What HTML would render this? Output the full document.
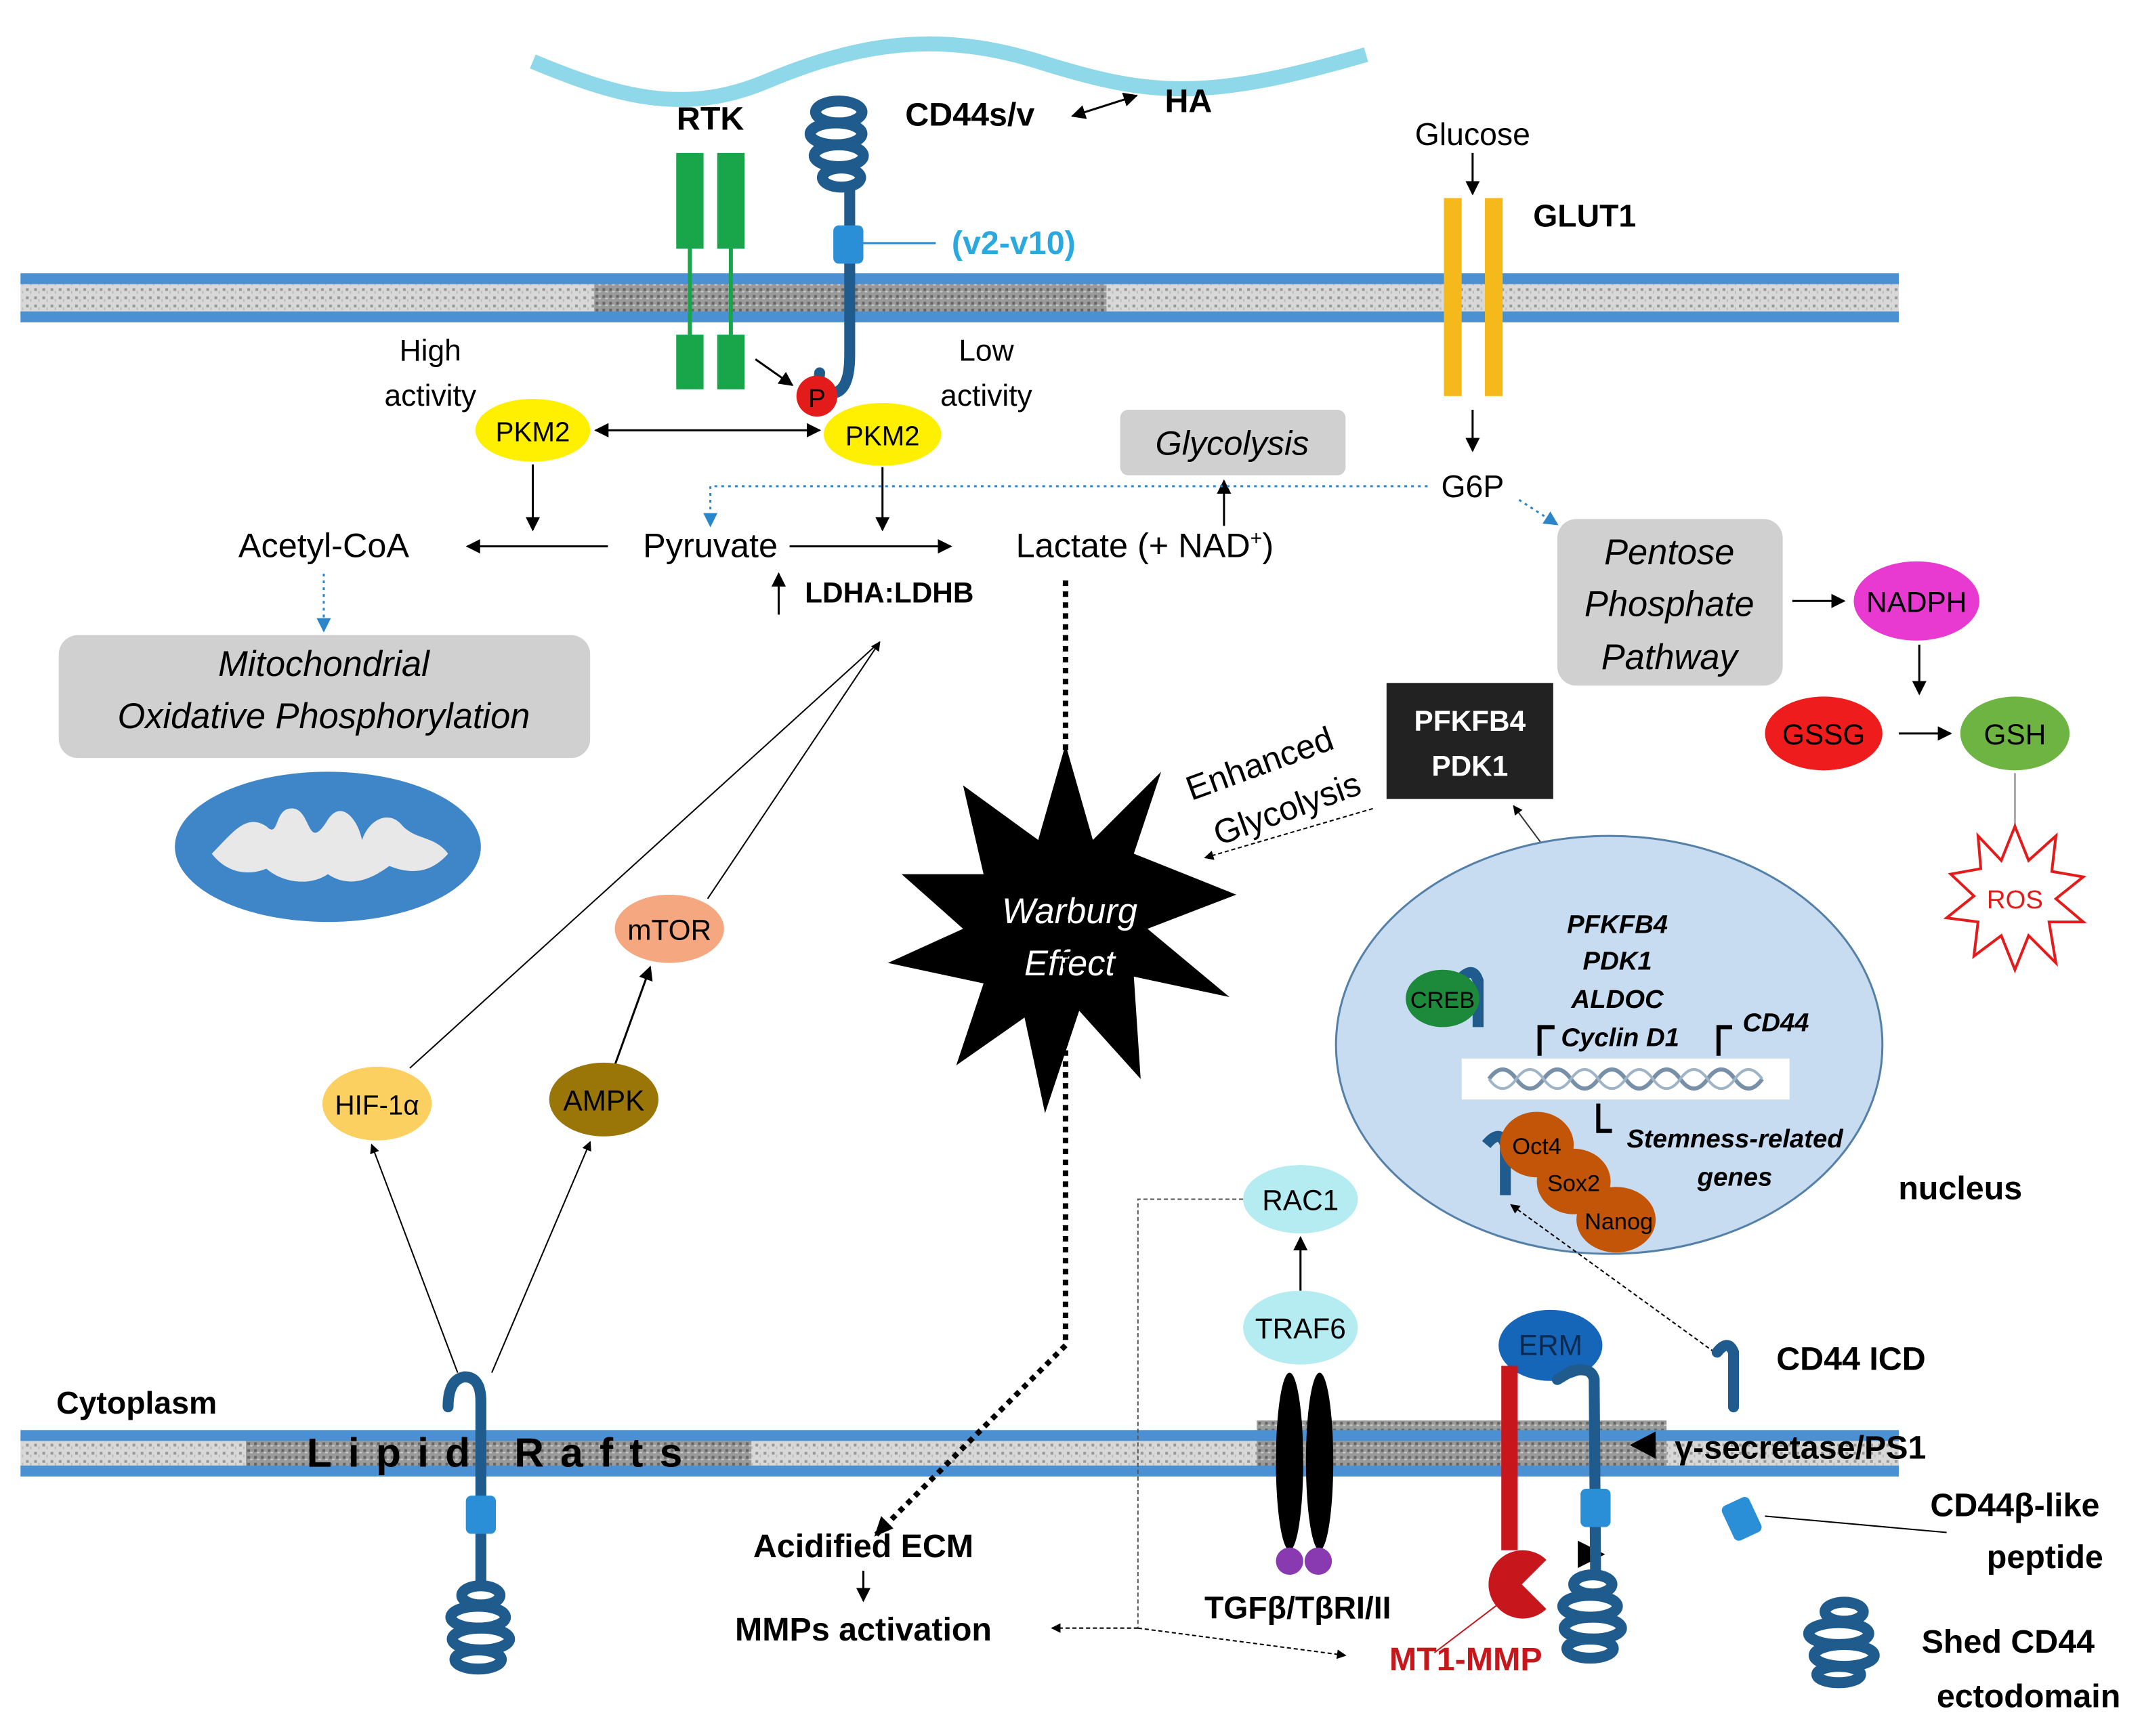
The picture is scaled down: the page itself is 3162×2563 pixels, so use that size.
<!DOCTYPE html>
<html><head><meta charset="utf-8"><style>html,body{margin:0;padding:0;background:#fff}svg{display:block}text{font-family:"Liberation Sans",sans-serif}</style></head><body>
<svg width="3162" height="2563" viewBox="0 0 1568 1271" xmlns="http://www.w3.org/2000/svg">
<defs>
<marker id="a" viewBox="0 0 10 10" refX="9" refY="5" markerWidth="7" markerHeight="7" orient="auto-start-reverse"><path d="M0,0L10,5L0,10z" fill="#000"/></marker>
<marker id="b" viewBox="0 0 10 10" refX="9" refY="5" markerWidth="7" markerHeight="7" orient="auto"><path d="M0,0L10,5L0,10z" fill="#2a86c8"/></marker>
<pattern id="g" width="6" height="6" patternUnits="userSpaceOnUse"><rect width="6" height="6" fill="#d8d8d8"/><rect x="1" y="1" width="2" height="2" fill="#999"/><rect x="4" y="3" width="1" height="2" fill="#bbb"/></pattern>
<pattern id="gd" width="5" height="5" patternUnits="userSpaceOnUse"><rect width="5" height="5" fill="#9a9a9a"/><rect x="1" y="1" width="2" height="2" fill="#666"/><rect x="3" y="3" width="2" height="1" fill="#ccc"/></pattern>
</defs>
<path d="M390,45 C450,70 500,85 560,60 S680,20 760,45 S880,75 1000,40" fill="none" stroke="#8fd8ea" stroke-width="11"/>
<rect x="15" y="205" width="1375" height="27" fill="url(#g)"/>
<rect x="435" y="202" width="375" height="33" fill="url(#gd)"/>
<rect x="15" y="200" width="1375" height="8" fill="#4a90d2"/>
<rect x="15" y="228" width="1375" height="8" fill="#4a90d2"/>
<rect x="15" y="1052" width="1375" height="24" fill="url(#g)"/>
<rect x="180" y="1048" width="370" height="32" fill="url(#gd)"/>
<rect x="920" y="1040" width="300" height="40" fill="url(#gd)"/>
<rect x="15" y="1047" width="1375" height="8" fill="#4a90d2"/>
<rect x="15" y="1073" width="1375" height="8" fill="#4a90d2"/>
<g fill="#19a64a"><rect x="495" y="112" width="20" height="70"/><rect x="525" y="112" width="20" height="70"/><rect x="495" y="245" width="20" height="40"/><rect x="525" y="245" width="20" height="40"/></g>
<line x1="505" y1="182" x2="505" y2="245" stroke="#19a64a" stroke-width="3"/><line x1="535" y1="182" x2="535" y2="245" stroke="#19a64a" stroke-width="3"/>
<text x="520" y="95" font-size="24" font-weight="bold" text-anchor="middle">RTK</text>
<g fill="none" stroke="#1f5b8c" stroke-width="8" stroke-linecap="round">
<ellipse cx="614" cy="82" rx="17" ry="8"/><ellipse cx="612" cy="98" rx="19" ry="8"/><ellipse cx="614" cy="114" rx="18" ry="8"/><ellipse cx="616" cy="130" rx="14" ry="7"/>
<path d="M622,138 L622,260 q0,28 -14,28 q-10,0 -8,-15"/>
</g>
<rect x="610" y="165" width="22" height="28" rx="4" fill="#2a8fd6"/>
<line x1="632" y1="178" x2="685" y2="178" stroke="#2a8fd6" stroke-width="1.5"/>
<text x="742" y="186" font-size="24" font-weight="bold" fill="#2aa8e0" text-anchor="middle">(v2-v10)</text>
<text x="710" y="92" font-size="24" font-weight="bold" text-anchor="middle">CD44s/v</text>
<line x1="785" y1="85" x2="832" y2="70" stroke="#000" stroke-width="1.5" marker-start="url(#a)" marker-end="url(#a)"/>
<text x="870" y="82" font-size="24" font-weight="bold" text-anchor="middle">HA</text>
<text x="1078" y="106" font-size="23" text-anchor="middle">Glucose</text>
<line x1="1078" y1="112" x2="1078" y2="142" stroke="#000" stroke-width="1.5" marker-end="url(#a)"/>
<rect x="1057" y="145" width="13" height="145" fill="#f5b91c"/><rect x="1087" y="145" width="13" height="145" fill="#f5b91c"/>
<text x="1160" y="166" font-size="23" font-weight="bold" text-anchor="middle">GLUT1</text>
<line x1="1078" y1="300" x2="1078" y2="330" stroke="#000" stroke-width="1.5" marker-end="url(#a)"/>
<text x="1078" y="364" font-size="23" text-anchor="middle">G6P</text>
<text x="315" y="264" font-size="22" text-anchor="middle">High</text><text x="315" y="297" font-size="22" text-anchor="middle">activity</text>
<text x="722" y="264" font-size="22" text-anchor="middle">Low</text><text x="722" y="297" font-size="22" text-anchor="middle">activity</text>
<line x1="553" y1="263" x2="580" y2="282" stroke="#000" stroke-width="1.5" marker-end="url(#a)"/>
<ellipse cx="390" cy="315" rx="42" ry="23" fill="#ffef00"/><text x="390" y="323" font-size="20" text-anchor="middle">PKM2</text>
<ellipse cx="646" cy="318" rx="43" ry="23" fill="#ffef00"/><text x="646" y="326" font-size="20" text-anchor="middle">PKM2</text>
<circle cx="598" cy="290" r="15" fill="#e31b1b"/><text x="598" y="298" font-size="19" text-anchor="middle">P</text>
<line x1="436" y1="315" x2="600" y2="315" stroke="#000" stroke-width="1.5" marker-start="url(#a)" marker-end="url(#a)"/>
<line x1="390" y1="340" x2="390" y2="388" stroke="#000" stroke-width="1.5" marker-end="url(#a)"/>
<line x1="646" y1="342" x2="646" y2="388" stroke="#000" stroke-width="1.5" marker-end="url(#a)"/>
<text x="237" y="408" font-size="25" text-anchor="middle">Acetyl-CoA</text>
<text x="520" y="408" font-size="25" text-anchor="middle">Pyruvate</text>
<text x="838" y="408" font-size="25" text-anchor="middle">Lactate (+ NAD<tspan font-size="15" dy="-9">+</tspan><tspan dy="9">)</tspan></text>
<line x1="445" y1="400" x2="342" y2="400" stroke="#000" stroke-width="1.5" marker-end="url(#a)"/>
<line x1="578" y1="400" x2="696" y2="400" stroke="#000" stroke-width="1.5" marker-end="url(#a)"/>
<line x1="570" y1="450" x2="570" y2="420" stroke="#000" stroke-width="1.5" marker-end="url(#a)"/>
<text x="651" y="441" font-size="21" font-weight="bold" text-anchor="middle">LDHA:LDHB</text>
<rect x="820" y="300" width="165" height="48" rx="6" fill="#d0d0d0"/>
<text x="902" y="333" font-size="25" font-style="italic" text-anchor="middle">Glycolysis</text>
<line x1="896" y1="385" x2="896" y2="352" stroke="#000" stroke-width="1.5" marker-end="url(#a)"/>
<path d="M1045,356 L520,356 L520,385" fill="none" stroke="#2a86c8" stroke-width="1.5" stroke-dasharray="2,3" marker-end="url(#b)"/>
<line x1="1112" y1="366" x2="1140" y2="384" stroke="#2a86c8" stroke-width="1.5" stroke-dasharray="2,3" marker-end="url(#b)"/>
<line x1="237" y1="420" x2="237" y2="462" stroke="#2a86c8" stroke-width="1.5" stroke-dasharray="2,3" marker-end="url(#b)"/>
<rect x="43" y="465" width="389" height="90" rx="14" fill="#d0d0d0"/>
<text x="237" y="495" font-size="26" font-style="italic" text-anchor="middle">Mitochondrial</text>
<text x="237" y="533" font-size="26" font-style="italic" text-anchor="middle">Oxidative Phosphorylation</text>
<ellipse cx="240" cy="620" rx="112" ry="55" fill="#3f86c8"/>
<path d="M155,625 C170,610 180,595 195,605 C205,615 200,590 215,592 C228,594 225,625 240,600 C250,585 262,600 265,615 C270,600 285,592 295,605 C305,615 318,612 328,625 C315,640 300,640 285,634 C270,645 255,650 240,640 C225,650 205,645 195,636 C180,642 165,638 155,625 Z" fill="#e8e8e8"/>
<rect x="1140" y="380" width="165" height="122" rx="14" fill="#d0d0d0"/>
<text x="1222" y="413" font-size="26" font-style="italic" text-anchor="middle">Pentose</text>
<text x="1222" y="451" font-size="26" font-style="italic" text-anchor="middle">Phosphate</text>
<text x="1222" y="490" font-size="26" font-style="italic" text-anchor="middle">Pathway</text>
<line x1="1312" y1="440" x2="1350" y2="440" stroke="#000" stroke-width="1.5" marker-end="url(#a)"/>
<ellipse cx="1403" cy="440" rx="46" ry="29" fill="#e83ad0"/><text x="1403" y="448" font-size="21" text-anchor="middle">NADPH</text>
<line x1="1405" y1="472" x2="1405" y2="508" stroke="#000" stroke-width="1.5" marker-end="url(#a)"/>
<ellipse cx="1335" cy="537" rx="43" ry="27" fill="#ee1c1c"/><text x="1335" y="545" font-size="21" text-anchor="middle">GSSG</text>
<ellipse cx="1475" cy="537" rx="40" ry="27" fill="#6db443"/><text x="1475" y="545" font-size="21" text-anchor="middle">GSH</text>
<line x1="1390" y1="537" x2="1428" y2="537" stroke="#000" stroke-width="1.5" marker-end="url(#a)"/>
<line x1="1475" y1="566" x2="1475" y2="605" stroke="#aaa" stroke-width="1.5"/>
<polygon points="1475,605 1485,630 1505,612 1502,638 1525,642 1505,658 1525,675 1500,675 1505,705 1485,685 1475,710 1465,685 1445,700 1448,675 1425,672 1445,656 1428,640 1450,636 1448,612 1465,630" fill="#fff" stroke="#e31b1b" stroke-width="2"/>
<text x="1475" y="665" font-size="19" fill="#e31b1b" text-anchor="middle">ROS</text>
<rect x="1015" y="500" width="122" height="85" fill="#222"/>
<text x="1076" y="535" font-size="21" font-weight="bold" fill="#fff" text-anchor="middle">PFKFB4</text>
<text x="1076" y="568" font-size="21" font-weight="bold" fill="#fff" text-anchor="middle">PDK1</text>
<line x1="1160" y1="660" x2="1108" y2="590" stroke="#333" stroke-width="1" marker-end="url(#a)"/>
<text transform="translate(925,567) rotate(-20)" font-size="25" text-anchor="middle">Enhanced</text>
<text transform="translate(945,600) rotate(-20)" font-size="25" text-anchor="middle">Glycolysis</text>
<line x1="1005" y1="592" x2="882" y2="628" stroke="#000" stroke-width="1" stroke-dasharray="3,2" marker-end="url(#a)"/>
<polygon points="780,545 800,615 850,565 830,625 905,655 840,680 900,730 830,715 835,790 790,740 765,815 750,745 700,780 720,720 650,705 705,680 660,640 720,640 705,575 760,615" fill="#000"/>
<text x="783" y="676" font-size="26" font-style="italic" fill="#fff" text-anchor="middle">Warburg</text>
<text x="783" y="714" font-size="26" font-style="italic" fill="#fff" text-anchor="middle">Effect</text>
<path d="M780,425 L780,985 L640,1125" fill="none" stroke="#000" stroke-width="4" stroke-dasharray="4,4"/>
<polygon points="640,1125 645,1110 654,1119" fill="#000"/>
<line x1="300" y1="782" x2="644" y2="470" stroke="#000" stroke-width="1"/>
<line x1="518" y1="658" x2="644" y2="470" stroke="#000" stroke-width="1" marker-end="url(#a)"/>
<ellipse cx="490" cy="680" rx="40" ry="25" fill="#f5a880"/><text x="490" y="688" font-size="21" text-anchor="middle">mTOR</text>
<line x1="450" y1="780" x2="476" y2="708" stroke="#000" stroke-width="1.5" marker-end="url(#a)"/>
<ellipse cx="442" cy="805" rx="40" ry="27" fill="#9a7608"/><text x="442" y="813" font-size="21" text-anchor="middle">AMPK</text>
<ellipse cx="276" cy="808" rx="40" ry="27" fill="#fcd060"/><text x="276" y="816" font-size="20" text-anchor="middle">HIF-1α</text>
<line x1="335" y1="1005" x2="272" y2="838" stroke="#000" stroke-width="1" marker-end="url(#a)"/>
<line x1="360" y1="1005" x2="432" y2="836" stroke="#000" stroke-width="1" marker-end="url(#a)"/>
<g fill="none" stroke="#1f5b8c" stroke-width="8" stroke-linecap="round">
<path d="M328,1030 q0,-20 12,-22 q12,0 12,18 L352,1160"/>
<ellipse cx="352" cy="1168" rx="14" ry="7"/><ellipse cx="350" cy="1184" rx="20" ry="8"/><ellipse cx="352" cy="1200" rx="21" ry="8"/><ellipse cx="350" cy="1215" rx="17" ry="7"/>
</g>
<rect x="341" y="1095" width="22" height="28" rx="4" fill="#2a8fd6"/>
<text x="100" y="1035" font-size="23" font-weight="bold" text-anchor="middle">Cytoplasm</text>
<text x="368" y="1074" font-size="30" font-weight="bold" text-anchor="middle" letter-spacing="12">Lipid  Rafts</text>
<ellipse cx="1178" cy="765" rx="200" ry="153" fill="#c7dcf0" stroke="#5580a8" stroke-width="1.5"/>
<g font-size="19" font-weight="bold" font-style="italic" text-anchor="middle">
<text x="1184" y="683">PFKFB4</text><text x="1184" y="710">PDK1</text><text x="1184" y="738">ALDOC</text><text x="1186" y="766">Cyclin D1</text><text x="1300" y="755">CD44</text><text x="1270" y="840">Stemness-related</text><text x="1270" y="868">genes</text></g>
<rect x="1070" y="775" width="240" height="30" fill="#fff"/>
<path d="M1090,790 q10,-14 20,0 t20,0 t20,0 t20,0 t20,0 t20,0 t20,0 t20,0 t20,0 t20,0" fill="none" stroke="#7790a8" stroke-width="3"/>
<path d="M1090,790 q10,14 20,0 t20,0 t20,0 t20,0 t20,0 t20,0 t20,0 t20,0 t20,0 t20,0" fill="none" stroke="#a0b4c8" stroke-width="2"/>
<g fill="none" stroke="#000" stroke-width="3"><path d="M1127,773 L1127,752 L1138,752"/><path d="M1258,773 L1258,752 L1268,752"/><path d="M1170,808 L1170,828 L1180,828"/></g>
<g fill="none" stroke="#1f5b8c" stroke-width="8"><path d="M1068,718 q10,-12 14,0 L1082,752"/><path d="M1088,838 q10,-12 14,0 L1102,875"/></g>
<ellipse cx="1056" cy="731" rx="27" ry="21" fill="#1c8a3a"/><text x="1056" y="738" font-size="17" text-anchor="middle">CREB</text>
<ellipse cx="1125" cy="838" rx="27" ry="24" fill="#c25508"/><ellipse cx="1152" cy="865" rx="27" ry="24" fill="#c25508"/><ellipse cx="1183" cy="893" rx="29" ry="24" fill="#c25508"/>
<text x="1125" y="845" font-size="17" text-anchor="middle">Oct4</text><text x="1152" y="872" font-size="17" text-anchor="middle">Sox2</text><text x="1185" y="900" font-size="17" text-anchor="middle">Nanog</text>
<text x="1435" y="878" font-size="24" font-weight="bold" text-anchor="middle">nucleus</text>
<line x1="1255" y1="990" x2="1106" y2="882" stroke="#000" stroke-width="1" stroke-dasharray="3,2" marker-end="url(#a)"/>
<ellipse cx="952" cy="878" rx="42" ry="25" fill="#b5ecf2"/><text x="952" y="886" font-size="21" text-anchor="middle">RAC1</text>
<line x1="952" y1="945" x2="952" y2="906" stroke="#000" stroke-width="1.5" marker-end="url(#a)"/>
<ellipse cx="952" cy="972" rx="42" ry="27" fill="#b5ecf2"/><text x="952" y="980" font-size="21" text-anchor="middle">TRAF6</text>
<ellipse cx="944" cy="1070" rx="10" ry="65" fill="#000"/><ellipse cx="966" cy="1070" rx="10" ry="65" fill="#000"/>
<circle cx="944" cy="1143" r="10" fill="#8a3ab0"/><circle cx="965" cy="1143" r="10" fill="#8a3ab0"/>
<text x="950" y="1185" font-size="23" font-weight="bold" text-anchor="middle">TGFβ/TβRI/II</text>
<path d="M910,878 L833,878 L833,1192" fill="none" stroke="#555" stroke-width="1" stroke-dasharray="3,2"/>
<line x1="833" y1="1192" x2="770" y2="1192" stroke="#000" stroke-width="1" stroke-dasharray="3,2" marker-end="url(#a)"/>
<line x1="833" y1="1192" x2="985" y2="1212" stroke="#000" stroke-width="1" stroke-dasharray="3,2" marker-end="url(#a)"/>
<text x="632" y="1140" font-size="24" font-weight="bold" text-anchor="middle">Acidified ECM</text>
<line x1="632" y1="1150" x2="632" y2="1172" stroke="#000" stroke-width="1.5" marker-end="url(#a)"/>
<text x="632" y="1201" font-size="24" font-weight="bold" text-anchor="middle">MMPs activation</text>
<ellipse cx="1135" cy="985" rx="38" ry="26" fill="#1565b8"/><text x="1135" y="992" font-size="21" fill="#0b2a50" text-anchor="middle">ERM</text>
<rect x="1099" y="1000" width="12" height="135" fill="#c8161d"/>
<path d="M1110,1160 m22,-18 a25,25 0 1 0 0,36 l-18,-18 z" fill="#c8161d"/>
<line x1="1050" y1="1210" x2="1100" y2="1172" stroke="#c8161d" stroke-width="1"/>
<text x="1073" y="1223" font-size="24" font-weight="bold" fill="#c8161d" text-anchor="middle">MT1-MMP</text>
<polygon points="1155,1128 1175,1138 1155,1148" fill="#000"/>
<g fill="none" stroke="#1f5b8c" stroke-width="8" stroke-linecap="round">
<path d="M1140,1010 l10,-6 q15,-4 17,6 L1168,1150"/>
<ellipse cx="1166" cy="1160" rx="14" ry="7"/><ellipse cx="1164" cy="1176" rx="20" ry="8"/><ellipse cx="1166" cy="1192" rx="21" ry="8"/><ellipse cx="1164" cy="1207" rx="17" ry="7"/>
<path d="M1257,990 q8,-10 12,0 L1269,1030"/>
<ellipse cx="1350" cy="1180" rx="14" ry="7"/><ellipse cx="1346" cy="1196" rx="22" ry="8"/><ellipse cx="1350" cy="1212" rx="22" ry="8"/><ellipse cx="1346" cy="1226" rx="16" ry="6"/>
</g>
<rect x="1157" y="1090" width="22" height="28" rx="4" fill="#2a8fd6"/>
<rect x="1264" y="1098" width="22" height="28" rx="4" fill="#2a8fd6" transform="rotate(-25 1275 1112)"/>
<line x1="1292" y1="1110" x2="1425" y2="1122" stroke="#000" stroke-width="1"/>
<text x="1355" y="1003" font-size="24" font-weight="bold" text-anchor="middle">CD44 ICD</text>
<polygon points="1193,1058 1212,1048 1212,1068" fill="#000"/>
<text x="1318" y="1068" font-size="24" font-weight="bold" text-anchor="middle">γ-secretase/PS1</text>
<text x="1475" y="1110" font-size="24" font-weight="bold" text-anchor="middle">CD44β-like</text>
<text x="1497" y="1148" font-size="24" font-weight="bold" text-anchor="middle">peptide</text>
<text x="1470" y="1210" font-size="24" font-weight="bold" text-anchor="middle">Shed CD44</text>
<text x="1485" y="1250" font-size="24" font-weight="bold" text-anchor="middle">ectodomain</text>
</svg>
</body></html>
